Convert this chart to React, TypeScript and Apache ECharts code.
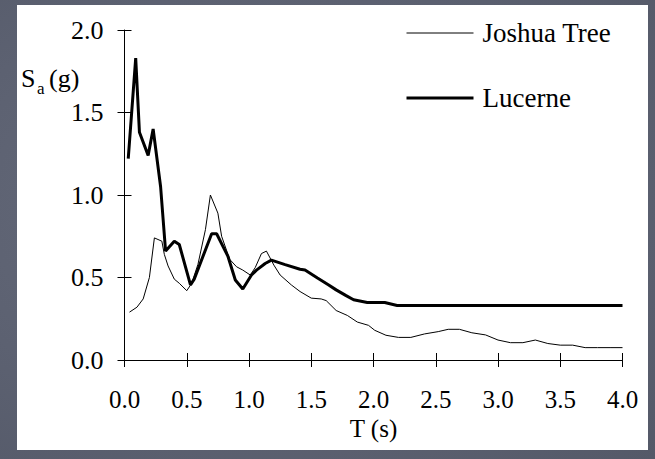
import React, { useEffect, useRef } from "react";
import * as echarts from "echarts";

// Response spectra: spectral acceleration Sa (g) against period T (s)
const seriesNames = ["Joshua Tree", "Lucerne"];

const joshuaPeriod = [
  0.04, 0.1, 0.15, 0.2, 0.24, 0.3, 0.32, 0.35, 0.4, 0.44, 0.5, 0.54, 0.59, 0.65, 0.69, 0.75,
  0.78, 0.845, 0.9, 0.95, 1.01, 1.05, 1.1, 1.14, 1.2, 1.25, 1.34, 1.41, 1.5, 1.58, 1.62, 1.7,
  1.79, 1.87, 1.96, 2.01, 2.1, 2.2, 2.3, 2.41, 2.52, 2.6, 2.69, 2.79, 2.9, 3.0, 3.1, 3.2, 3.3,
  3.4, 3.5, 3.6, 3.7, 3.8, 3.9, 4.0,
];
const joshuaSa = [
  0.29, 0.32, 0.37, 0.5, 0.74, 0.72, 0.64, 0.57, 0.49, 0.465, 0.42, 0.465, 0.58, 0.79, 1.0, 0.89,
  0.75, 0.61, 0.565, 0.545, 0.515, 0.56, 0.645, 0.66, 0.575, 0.515, 0.455, 0.415, 0.375, 0.37,
  0.36, 0.3, 0.27, 0.23, 0.21, 0.18, 0.15, 0.137, 0.137, 0.158, 0.172, 0.186, 0.186, 0.165,
  0.152, 0.121, 0.105, 0.105, 0.121, 0.1, 0.09, 0.09, 0.075, 0.075, 0.075, 0.075,
];

const lucernePeriod = [
  0.03, 0.09, 0.12, 0.19, 0.23, 0.29, 0.33, 0.4, 0.44, 0.53, 0.56, 0.7, 0.74, 0.83, 0.89, 0.95,
  1.02, 1.06, 1.13, 1.18, 1.29, 1.41, 1.45, 1.55, 1.64, 1.7, 1.78, 1.84, 1.95, 2.09, 2.19, 2.3,
  2.4, 2.5, 2.6, 2.7, 2.8, 2.9, 3.0, 3.1, 3.2, 3.3, 3.4, 3.5, 3.6, 3.7, 3.8, 3.9, 4.0,
];
const lucerneSa = [
  1.22, 1.83, 1.38, 1.24, 1.4, 1.05, 0.66, 0.72, 0.7, 0.455, 0.49, 0.765, 0.765, 0.63, 0.485,
  0.43, 0.515, 0.545, 0.585, 0.605, 0.578, 0.55, 0.545, 0.497, 0.455, 0.425, 0.39, 0.365, 0.348,
  0.348, 0.33, 0.33, 0.33, 0.33, 0.33, 0.33, 0.33, 0.33, 0.33, 0.33, 0.33, 0.33, 0.33, 0.33,
  0.33, 0.33, 0.33, 0.33, 0.33,
];

const periodTicks = { min: 0, max: 4, interval: 0.5 };
const saTicks = { min: 0, max: 2, interval: 0.5 };

const FONT = "'Liberation Serif', 'Times New Roman', serif";

function pairs(xs: number[], ys: number[]) {
  return xs.map((x, i) => [x, ys[i]]);
}

export default function App() {
  const ref = useRef<HTMLDivElement>(null);

  useEffect(() => {
    if (!ref.current) return;
    const chart = echarts.init(ref.current, undefined, { renderer: "svg" });

    const axisBase = {
      type: "value" as const,
      axisLine: { show: true, lineStyle: { color: "#000", width: 1 } },
      splitLine: { show: false },
    };

    chart.setOption({
      animation: false,
      backgroundColor: "transparent",
      grid: { left: 124.5, right: 32.5, top: 30, bottom: 99, containLabel: false },
      xAxis: [
        {
          ...axisBase,
          ...periodTicks,
          position: "bottom",
          axisTick: { show: true, inside: false, length: 7, lineStyle: { color: "#000" } },
          axisLabel: {
            color: "#000",
            fontFamily: FONT,
            fontSize: 25,
            lineHeight: 20,
            margin: 29,
            formatter: (v: number) => v.toFixed(1),
          },
          name: "T (s)",
          nameLocation: "middle",
          nameGap: 58,
          nameMoveOverlap: false,
          nameTextStyle: { color: "#000", fontFamily: FONT, fontSize: 25, lineHeight: 20 },
        },
        {
          ...axisBase,
          ...periodTicks,
          position: "bottom",
          axisLine: { show: false },
          axisTick: { show: true, inside: true, length: 7, lineStyle: { color: "#000" } },
          axisLabel: { show: false },
        },
      ],
      yAxis: [
        {
          ...axisBase,
          ...saTicks,
          position: "left",
          axisTick: { show: true, inside: false, length: 7, lineStyle: { color: "#000" } },
          axisLabel: {
            color: "#000",
            fontFamily: FONT,
            fontSize: 26,
            margin: 21,
            formatter: (v: number) => v.toFixed(1),
          },
        },
        {
          ...axisBase,
          ...saTicks,
          position: "left",
          axisLine: { show: false },
          axisTick: { show: true, inside: true, length: 7, lineStyle: { color: "#000" } },
          axisLabel: { show: false },
        },
      ],
      legend: {
        orient: "vertical",
        left: 405,
        top: 18,
        padding: 0,
        itemWidth: 67,
        itemHeight: 14,
        itemGap: 35,
        itemStyle: { opacity: 0 },
        data: [
          { name: seriesNames[0], lineStyle: { width: 1, color: "#000" } },
          { name: seriesNames[1], lineStyle: { width: 3, color: "#000" } },
        ],
        textStyle: {
          color: "#000",
          fontFamily: FONT,
          fontSize: 27,
          lineHeight: 30,
          padding: [0, 0, 0, 4],
        },
      },
      graphic: [
        {
          type: "rect",
          z: -10,
          silent: true,
          shape: { x: 17, y: 5, width: 631, height: 445 },
          style: { fill: "#ffffff" },
        },
        {
          type: "text",
          x: 21,
          y: 78,
          style: { text: "S", fill: "#000", font: `26px ${FONT}`, textVerticalAlign: "middle" },
        },
        {
          type: "text",
          x: 37,
          y: 88,
          style: { text: "a", fill: "#000", font: `17px ${FONT}`, textVerticalAlign: "middle" },
        },
        {
          type: "text",
          x: 49,
          y: 78,
          style: { text: "(g)", fill: "#000", font: `26px ${FONT}`, textVerticalAlign: "middle" },
        },
      ],
      series: [
        {
          name: seriesNames[0],
          type: "line",
          xAxisIndex: 0,
          yAxisIndex: 0,
          symbol: "none",
          lineStyle: { color: "#000", width: 1 },
          itemStyle: { color: "#000" },
          data: pairs(joshuaPeriod, joshuaSa),
        },
        {
          name: seriesNames[1],
          type: "line",
          xAxisIndex: 0,
          yAxisIndex: 0,
          symbol: "none",
          lineStyle: { color: "#000", width: 3 },
          itemStyle: { color: "#000" },
          data: pairs(lucernePeriod, lucerneSa),
        },
      ],
    });

    return () => chart.dispose();
  }, []);

  return (
    <div
      style={{
        position: "absolute",
        left: 0,
        top: 0,
        width: 655,
        height: 459,
        background: "radial-gradient(ellipse at 40% 45%, #676c7c 0%, #5c6171 60%, #545968 100%)",
      }}
    >
      <div ref={ref} style={{ width: 655, height: 459 }} />
    </div>
  );
}
